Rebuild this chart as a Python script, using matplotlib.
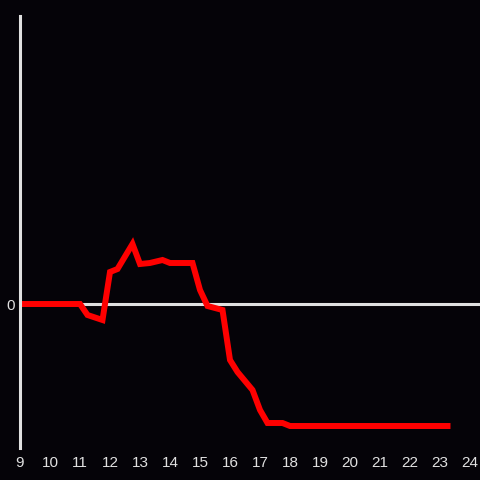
import matplotlib
matplotlib.use('Agg')
import matplotlib.pyplot as plt

# hour of day and relative value (arbitrary units, 0 = baseline)
hours = [9.0, 11.0, 11.25, 11.75, 12.0, 12.25, 12.75, 13.0, 13.33, 13.75, 14.0,
         14.75, 15.0, 15.25, 15.75, 16.0, 16.25, 16.75, 17.0, 17.25, 17.75, 18.0, 23.25]
values = [0, 0, -11, -16, 32, 35, 60, 40, 41, 44, 41,
          41, 14, -2, -6, -56, -68, -86, -106, -119, -119, -122, -122]
xticks = list(range(9, 25))

bg = '#050308'
fg = '#e0e0e0'

fig = plt.figure(figsize=(4.8, 4.8), dpi=100, facecolor=bg)
ax = fig.add_axes([20 / 480, 32 / 480, 460 / 480, 432 / 480], facecolor=bg)

ax.axhline(0, color=fg, lw=2.2, zorder=1)
ax.plot(hours, values, color='#ff0000', lw=4.3, solid_capstyle='projecting',
        solid_joinstyle='miter', zorder=2)

ax.set_xlim(9, 9 + 460 / 30)
ax.set_ylim(-144, 288)
ax.set_xticks(xticks)
ax.set_yticks([0])
ax.tick_params(length=0, colors=fg, labelsize=11)
ax.tick_params(axis='x', pad=6)
ax.tick_params(axis='y', pad=4)
for lab in ax.get_xticklabels() + ax.get_yticklabels():
    lab.set_family('Liberation Sans')

for s in ['top', 'right', 'bottom']:
    ax.spines[s].set_visible(False)
ax.spines['left'].set_color(fg)
ax.spines['left'].set_linewidth(2.2)

fig.savefig('out.png', dpi=100, facecolor=bg)
